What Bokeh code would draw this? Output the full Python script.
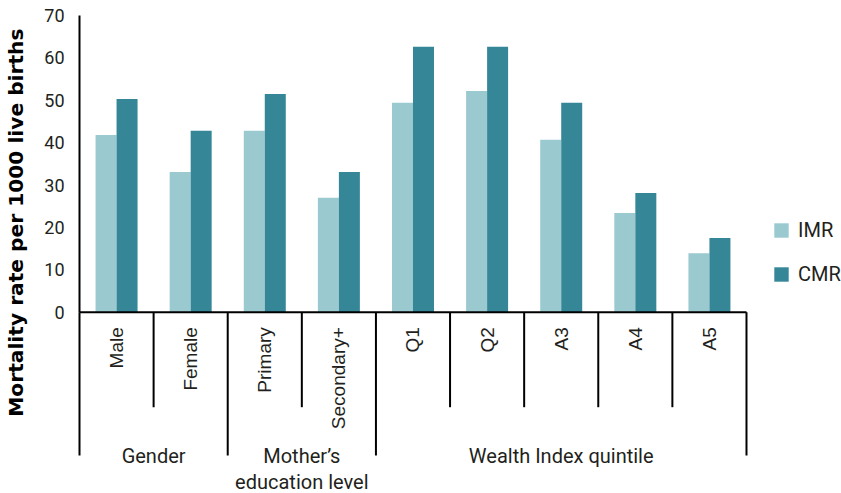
import math
from bokeh.plotting import figure
from bokeh.models import (Range1d, LinearAxis, FixedTicker, Title, Legend,
                          LegendItem, ColumnDataSource)
from bokeh.transform import dodge
from bokeh.core.properties import value
from bokeh.embed import file_html
from bokeh.resources import INLINE

# ---------------- data ----------------
categories = ["Male", "Female", "Primary", "Secondary+", "Q1", "Q2", "A3", "A4", "A5"]
groups = ["Gender", "Mother\u2019s\neducation level", "Wealth Index quintile"]
group_sizes = [2, 2, 5]
imr = [41.8, 33.1, 42.8, 27.0, 49.4, 52.2, 40.7, 23.4, 13.9]
cmr = [50.3, 42.8, 51.5, 33.1, 62.6, 62.6, 49.4, 28.1, 17.5]
y_ticks = [0, 10, 20, 30, 40, 50, 60, 70]
series = ["IMR", "CMR"]
colors = ["#9AC9D0", "#358798"]
y_label = "Mortality rate per 1000 live births"

# ---------------- layout (pixels) ----------------
W, H = 841, 493
FL = 76            # frame left edge
X0 = 79            # pixel of x = 0 (axis line)
CW = 74.11         # category width in px
Y0 = 311.7         # pixel of value 0
Y70 = 15.0         # pixel of value 70
K = (Y0 - Y70) / 70.0
n = len(categories)

x_start = -(X0 - FL) / CW
x_end = (W - X0) / CW
y_start = -(H - Y0) / K
y_end = 70 + Y70 / K

TEXT = "#231F20"

p = figure(width=W, height=H, output_backend="svg", toolbar_location=None,
           x_range=Range1d(x_start, x_end), y_range=Range1d(y_start, y_end),
           x_axis_type=None, y_axis_type=None,
           min_border_left=FL, min_border_right=0, min_border_top=0, min_border_bottom=0)
p.outline_line_color = None
p.background_fill_color = "white"
p.border_fill_color = "white"

# y axis (labels only)
yaxis = LinearAxis(ticker=FixedTicker(ticks=y_ticks), axis_line_color=None,
                   major_tick_line_color=None, minor_tick_line_color=None,
                   major_tick_out=0, major_tick_in=0,
                   major_label_standoff=12,
                   major_label_text_font="Roboto", major_label_text_font_size="18px",
                   major_label_text_color=TEXT)
p.add_layout(yaxis, "left")

# blank spacer between tick labels and the axis title
spacer = Title(text=".", standoff=6.0, text_font_size="2px", text_color="white")
p.add_layout(spacer, "left")

# y axis title
ytitle = Title(text=y_label, align="right", vertical_align="top", offset=28, standoff=5,
               text_font="DejaVu Sans", text_font_style="bold",
               text_font_size="20.2px", text_color="black")
p.add_layout(ytitle, "left")

# bars
src = ColumnDataSource(dict(x=[i + 0.5 for i in range(n)], imr=imr, cmr=cmr))
bw = 21.0 / CW
r1 = p.vbar(x=dodge("x", -bw / 2, range=p.x_range), top="imr", bottom=0, width=bw,
            source=src, fill_color=colors[0], line_color=None)
r2 = p.vbar(x=dodge("x", bw / 2, range=p.x_range), top="cmr", bottom=0, width=bw,
            source=src, fill_color=colors[1], line_color=None)

# axis lines
p.segment(x0=[0, 0], y0=[0, 0], x1=[0, n], y1=[70, 0], line_color="black", line_width=2)

# separators
short_depth = -(406.7 - Y0) / K
long_depth = -(455 - Y0) / K
bounds_group = [0]
for s in group_sizes:
    bounds_group.append(bounds_group[-1] + s)
bounds_inner = [b for b in range(1, n) if b not in bounds_group]
p.segment(x0=bounds_inner, y0=[0] * len(bounds_inner), x1=bounds_inner,
          y1=[short_depth] * len(bounds_inner), line_color="black", line_width=2)
p.segment(x0=bounds_group, y0=[0] * len(bounds_group), x1=bounds_group,
          y1=[long_depth] * len(bounds_group), line_color="black", line_width=2)

# category labels
p.text(x=[i + 0.5 for i in range(n)], y=[-15 / K] * n, text=categories,
       angle=math.pi / 2, text_align="right", text_baseline="middle",
       text_font=value("Liberation Sans"), text_font_size="19px", text_color=TEXT)

# group labels
gx = [(bounds_group[i] + bounds_group[i + 1]) / 2 for i in range(len(groups))]
gy = (Y0 - 443) / K
p.text(x=gx, y=[gy] * len(groups), text=groups, text_align="center",
       text_baseline="top", text_line_height=1.1,
       text_font=value("Roboto"), text_font_size="20px", text_color=TEXT)

# legend
legend = Legend(items=[LegendItem(label=series[0], renderers=[r1]),
                       LegendItem(label=series[1], renderers=[r2])],
                location=(772 - FL, 207.5), orientation="vertical",
                glyph_width=18, glyph_height=18, label_standoff=8, spacing=20,
                padding=0, margin=0, border_line_color=None,
                background_fill_alpha=0,
                label_text_font="Roboto", label_text_font_size="20px",
                label_text_color=TEXT)
p.add_layout(legend)

open("out.html", "w").write(file_html(p, INLINE))
